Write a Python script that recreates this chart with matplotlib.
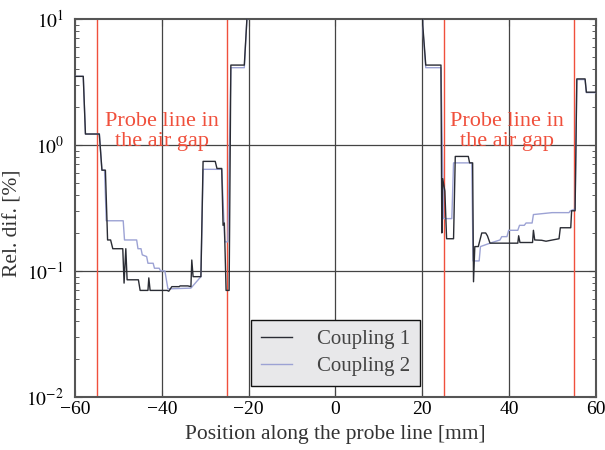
import matplotlib
matplotlib.use("Agg")
import matplotlib.pyplot as plt
from matplotlib.ticker import FixedLocator, LogLocator, NullFormatter

plt.rcParams['font.family'] = ['Liberation Serif', 'DejaVu Serif']
plt.rcParams['mathtext.fontset'] = 'stix'

# coupling 1 (dark line)
x1 = [-60, -58.1, -57.6, -54.4, -53.8, -53.0, -52.5, -51.8, -51.3, -49.0, -48.7, -48.3, -48.0,
      -45.4, -45.0, -43.2, -43.0, -42.7, -38.8, -38.4, -37.7, -36.0, -35.8, -34.0, -33.3, -33.1,
      -32.8, -31.0, -30.5, -27.7, -27.3, -26.2, -25.9, -25.6, -25.2, -24.5, -24.1, -21.0, -20.4,
      -20.0, 20.0, 20.1, 20.8, 24.3, 24.5, 24.7, 25.2, 25.6, 27.2, 27.6, 30.6, 30.9, 31.6, 31.8,
      32.1, 32.9, 33.7, 34.6, 35.0, 35.6, 42.0, 42.2, 42.5, 45.4, 45.6, 45.9, 47.5, 48.5, 50.0,
      51.5, 51.8, 54.2, 54.4, 55.2, 55.6, 57.5, 57.8, 60]
y1 = [3.5, 3.5, 1.22, 1.22, 0.63, 0.63, 0.176, 0.176, 0.15, 0.15, 0.08, 0.15, 0.085,
      0.085, 0.07, 0.07, 0.088, 0.07, 0.07, 0.069, 0.075, 0.075, 0.076, 0.076, 0.075, 0.122,
      0.09, 0.09, 0.74, 0.74, 0.65, 0.65, 0.23, 0.24, 0.07, 0.07, 4.3, 4.3, 10,
      20, 20, 9, 4.3, 4.3, 0.2, 0.54, 0.43, 0.18, 0.18, 0.81, 0.81, 0.72, 0.72, 0.082,
      0.156, 0.156, 0.2, 0.2, 0.19, 0.166, 0.166, 0.19, 0.168, 0.168, 0.21, 0.176, 0.175, 0.172, 0.176,
      0.18, 0.22, 0.22, 0.30, 0.30, 3.34, 3.34, 2.62, 2.62]

# coupling 2 (light blue line)
x2 = [-60, -58.1, -57.6, -54.4, -53.8, -53.2, -52.8, -48.9, -48.6, -45.8, -45.5, -44.8, -44.5,
      -43.5, -43.2, -42.0, -41.7, -40.6, -40.3, -39.3, -38.6, -33.3, -31.0, -30.5, -26.2, -25.5,
      -24.8, -24.1, -21.0, -20.4, -20.0, 20.0, 20.1, 20.8, 24.3, 24.9, 26.8, 27.2, 31.4, 31.7,
      33.1, 33.4, 35.6, 37.9, 38.3, 39.5, 39.9, 42.0, 42.4, 43.5, 43.9, 45.3, 45.6, 49.9, 53.8,
      54.1, 55.2, 55.6, 57.5, 57.8, 60]
y2 = [3.5, 3.5, 1.22, 1.22, 0.63, 0.63, 0.25, 0.25, 0.176, 0.176, 0.15, 0.15, 0.134,
      0.13, 0.115, 0.115, 0.105, 0.105, 0.1, 0.1, 0.072, 0.073, 0.09, 0.64, 0.64, 0.17,
      0.17, 4.1, 4.1, 10, 20, 20, 8.5, 4.1, 4.1, 0.26, 0.26, 0.72, 0.72, 0.12,
      0.12, 0.156, 0.166, 0.176, 0.187, 0.187, 0.21, 0.21, 0.23, 0.23, 0.24, 0.24, 0.28, 0.29, 0.29,
      0.30, 0.31, 3.3, 3.3, 2.6, 2.6]

gap_edges = [-55, -25, 25, 55]
xticks = [-60, -40, -20, 0, 20, 40, 60]
yticks = [1e-2, 1e-1, 1e0, 1e1]
ytick_labels = ['$10^{-2}$', '$10^{-1}$', '$10^{0}$', '$10^{1}$']

fig = plt.figure(figsize=(6.05, 4.5), dpi=100)
ax = fig.add_axes([0.124, 0.118, 0.861, 0.840])

red = '#f0503c'
for xv in gap_edges:
    ax.axvline(xv, color=red, lw=1.0, zorder=2)
for xv in xticks[1:-1]:
    ax.axvline(xv, color='#444444', lw=0.9, zorder=1)
for yv in [1e-1, 1e0]:
    ax.axhline(yv, color='#444444', lw=0.9, zorder=1)

ax.plot(x1, y1, color='#2a2c34', lw=1.0, label='Coupling 1', zorder=4)
ax.plot(x2, y2, color='#9ca2d4', lw=1.0, label='Coupling 2', zorder=3)

ax.set_yscale('log')
ax.set_xlim(-60, 60)
ax.set_ylim(1e-2, 1e1)
ax.set_xticks(xticks)
ax.set_xticklabels(['\u221260', '\u221240', '\u221220', '0', '20', '40', '60'])
ax.yaxis.set_major_locator(FixedLocator(yticks))
ax.set_yticklabels(ytick_labels)
ax.yaxis.set_minor_locator(LogLocator(base=10, subs=range(2, 10)))
ax.yaxis.set_minor_formatter(NullFormatter())
ax.tick_params(axis='both', which='both', direction='in', labelsize=14,
               color='#444444', right=True, top=True)
ax.tick_params(which='major', length=5)
ax.tick_params(which='minor', length=3)
ax.tick_params(axis='y', which='major', pad=8)
ax.tick_params(axis='x', which='major', pad=3)
for s in ax.spines.values():
    s.set_color('#555555')
    s.set_linewidth(1.5)

ax.set_xlabel('Position along the probe line [mm]', fontsize=15.5, color='#333333', labelpad=5)
ax.set_ylabel('Rel. dif. [%]', fontsize=15.5, color='#333333', labelpad=3, y=0.46)

for xc in [-40, 39.5]:
    ax.text(xc, 1.28, 'Probe line in\nthe air gap', color=red, fontsize=16,
            ha='center', va='center', linespacing=1.05, zorder=5)

leg = ax.legend(loc='lower center', bbox_to_anchor=(0.5, 0.03), fontsize=15,
                frameon=True, fancybox=False, handlelength=1.5, handletextpad=1.2,
                borderpad=0.45, labelspacing=0.35, borderaxespad=0)
leg.get_frame().set_facecolor('#e8e8ea')
leg.get_frame().set_edgecolor('#111111')
leg.get_frame().set_alpha(1)
for t in leg.get_texts():
    t.set_color('#444444')

fig.savefig('out.png', dpi=100)
